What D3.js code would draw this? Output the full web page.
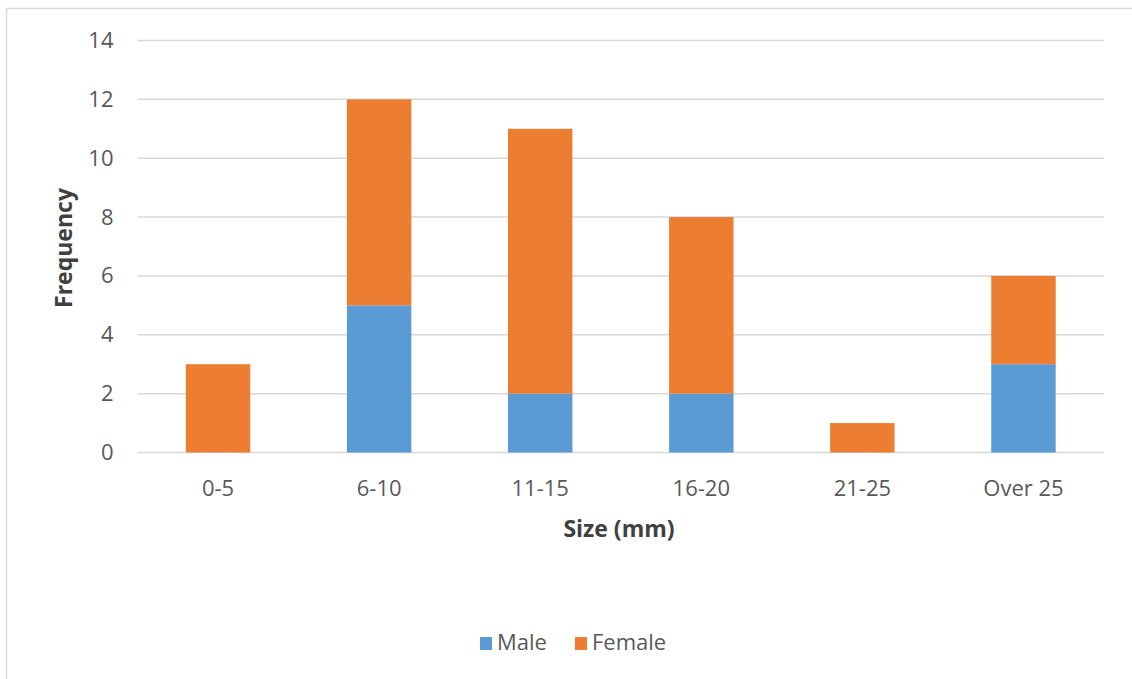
<!DOCTYPE html>
<html><head><meta charset="utf-8">
<script src="https://cdn.jsdelivr.net/npm/d3@7"></script>
<style>body{margin:0;background:#fff}svg{display:block}</style>
</head><body>
<script>
const categories = ["0-5","6-10","11-15","16-20","21-25","Over 25"];
const male = [0,5,2,2,0,3];
const female = [3,7,9,6,1,3];
const seriesNames = ["Male","Female"];
const colors = ["#5B9BD5","#ED7D31"];
const yTicks = [0,2,4,6,8,10,12,14];

const W=1132,H=679;
const svg=d3.select("body").append("svg").attr("width",W).attr("height",H);
const font="Open Sans, sans-serif";
svg.append("rect").attr("x",6.5).attr("y",8.5).attr("width",1140).attr("height",700)
  .attr("fill","#fff").attr("stroke","#D9D9D9").attr("stroke-width",1.5);

const m={l:137.5,r:1104,t:40.5,b:452.5};
const x=d3.scaleBand().domain(categories).range([m.l,m.r]).paddingInner(0.6).paddingOuter(0.3);
const y=d3.scaleLinear().domain([0,14]).range([m.b,m.t]);

// gridlines
svg.append("g").selectAll("line").data(yTicks).join("line")
  .attr("x1",m.l).attr("x2",m.r).attr("y1",d=>y(d)).attr("y2",d=>y(d))
  .attr("stroke","#D9D9D9").attr("stroke-width",1.5);

const rows=categories.map((c,i)=>({cat:c,Male:male[i],Female:female[i]}));
const stack=d3.stack().keys(seriesNames)(rows);
svg.append("g").selectAll("g").data(stack).join("g").attr("fill",(d,i)=>colors[i])
  .selectAll("rect").data(d=>d).join("rect")
  .attr("x",d=>x(d.data.cat)).attr("width",x.bandwidth())
  .attr("y",d=>y(d[1])).attr("height",d=>y(d[0])-y(d[1]));

// y axis labels
const ya=d3.axisLeft(y).tickValues(yTicks).tickSize(0).tickPadding(24);
const gy=svg.append("g").attr("transform",`translate(${m.l},0)`).call(ya);
gy.select(".domain").remove();
gy.selectAll("text").attr("font-family",font).attr("font-size",22).attr("fill","#595959");

const xa=d3.axisBottom(x).tickSize(0).tickPadding(28);
const gx=svg.append("g").attr("transform",`translate(0,${m.b})`).call(xa);
gx.select(".domain").remove();
gx.selectAll("text").attr("font-family",font).attr("font-size",22).attr("fill","#595959");

svg.append("text").attr("transform","translate(72,248) rotate(-90)").attr("text-anchor","middle")
  .attr("font-family",font).attr("font-weight","bold").attr("font-size",23).attr("fill","#404040").text("Frequency");
svg.append("text").attr("x",619).attr("y",537).attr("text-anchor","middle")
  .attr("font-family",font).attr("font-weight","bold").attr("font-size",23).attr("fill","#404040").text("Size (mm)");

// legend
const lg=svg.append("g");
const legX=[480,575];
seriesNames.forEach((s,i)=>{
  lg.append("rect").attr("x",legX[i]).attr("y",637).attr("width",12).attr("height",13).attr("fill",colors[i]);
  lg.append("text").attr("x",legX[i]+17).attr("y",650).attr("font-family",font).attr("font-size",22)
    .attr("fill","#595959").text(s);
});
</script>
</body></html>
